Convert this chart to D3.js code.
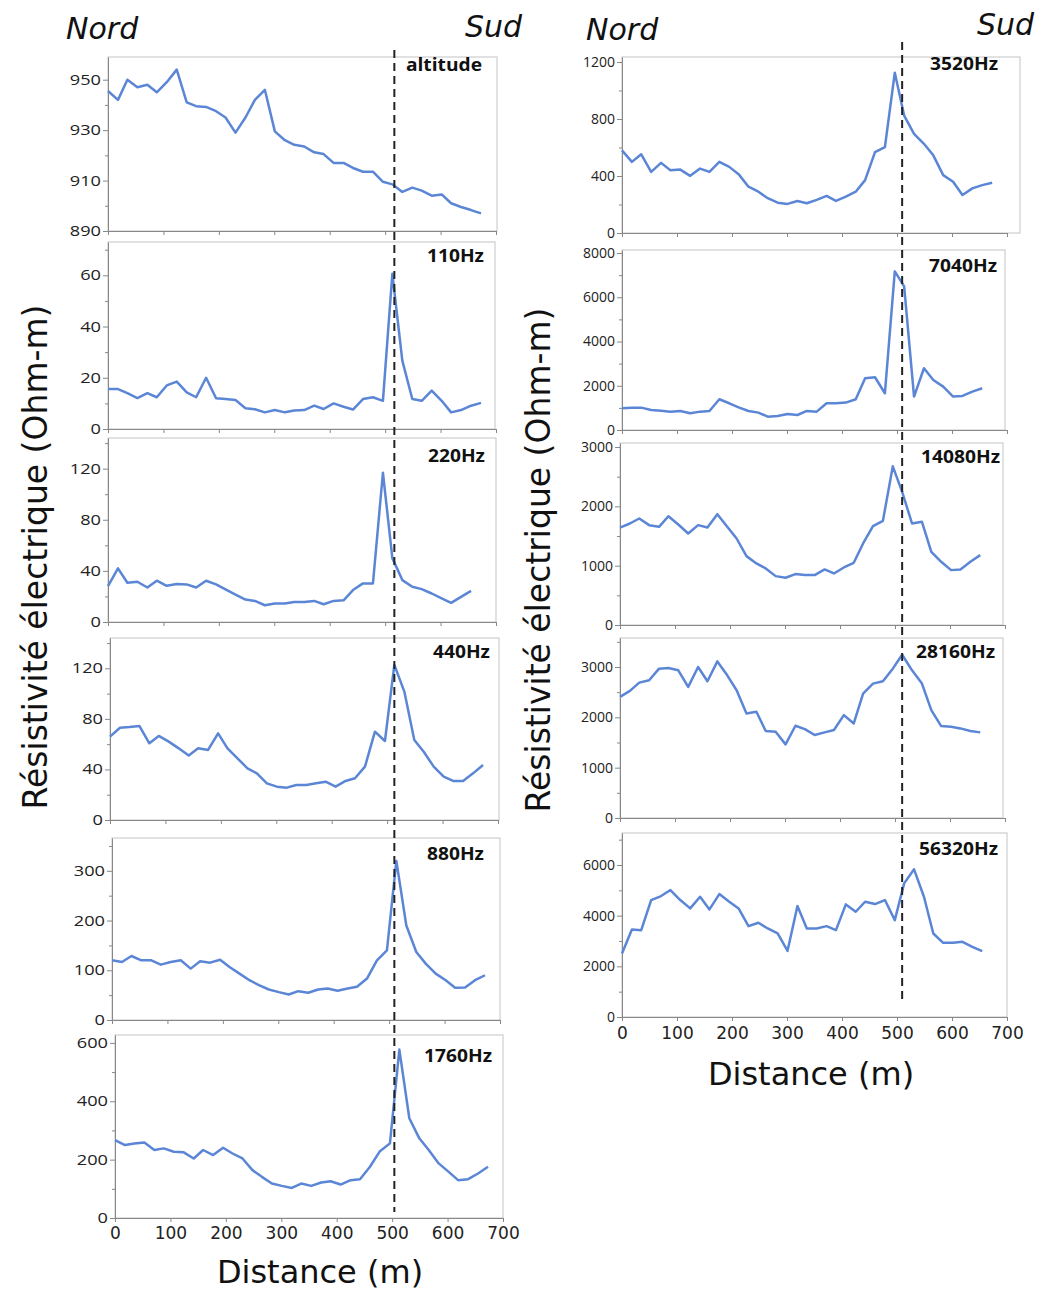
<!DOCTYPE html>
<html>
<head>
<meta charset="utf-8">
<script src="https://cdn.jsdelivr.net/npm/d3@7"></script>
<style>
  body { margin: 0; background: #fff; }
  svg { display: block; }
</style>
</head>
<body>
<div id="container"></div>
<script>
// station positions along the profile (m)
var distance = [0, 18, 35, 53, 71, 88, 106, 124, 142, 159, 177, 195, 212, 230, 248, 265, 283, 301, 319, 336,
  354, 372, 389, 407, 425, 442, 460, 478, 496, 513, 531, 549, 566, 584, 602, 619, 637, 655, 673];
var boundary = 513;
var xTicks = [0, 100, 200, 300, 400, 500, 600, 700];

var altitude = [945.5, 942, 950, 947, 948, 945, 949, 954, 941, 939.5, 939.2, 937.5, 935, 929, 935, 942, 946, 929.5, 926, 924.2,
  923.5, 921.2, 920.5, 917, 917, 915, 913.5, 913.5, 909.5, 908.5, 905.5, 907.2, 906, 904, 904.5, 901, 899.5, 898.3, 897];
var hz110 = [15.6, 15.6, 14, 12.1, 14, 12.4, 17, 18.5, 14.3, 12.4, 20, 12, 11.7, 11.3, 8.1, 7.7, 6.5, 7.4, 6.5, 7.2,
  7.4, 9.1, 7.8, 10, 8.7, 7.6, 11.7, 12.4, 11, 60.6, 26.7, 11.7, 11, 15, 11, 6.5, 7.4, 9.1, 10.2];
var hz220 = [28, 42, 30.7, 31.5, 27, 32.3, 28.3, 29.7, 29.4, 27, 32.3, 29.4, 25.5, 21.5, 17.6, 16.5, 13.1, 14.4, 14.4, 15.7,
  15.7, 16.5, 13.9, 16.5, 17, 25, 30.2, 30.2, 116.8, 50, 32.8, 27.6, 25.7, 22.3, 18.4, 15, 19.7, 24.4];
var hz440 = [66, 73, 73.5, 74.4, 60.7, 66.5, 62, 56.7, 51, 56.7, 55.4, 68.6, 56.7, 48.8, 40.9, 36.9, 29, 26.4, 25.6, 27.7,
  27.7, 29, 30.3, 26.4, 30.9, 33, 42.2, 69.9, 62.5, 122.7, 101.6, 63.3, 54, 42.2, 34.3, 30.9, 30.9, 36.9, 43.5];
var hz880 = [120, 116.7, 128.7, 120, 120, 111.3, 116.7, 120, 103.3, 118, 115.3, 121.3, 106.7, 93.3, 80, 70, 61.3, 56, 51.3, 58,
  54.7, 61.3, 63.3, 58.7, 63.3, 66.7, 83.3, 120, 140, 320, 190, 136.7, 113.3, 93.3, 80, 64.7, 65.3, 80, 90];
var hz1760 = [267, 250, 255, 259, 233, 238.5, 227, 225, 204, 233, 215.6, 240.8, 221, 204, 164, 141, 118, 110, 103, 118,
  110, 121.6, 126, 114.7, 129.6, 133, 175.5, 229, 255.7, 577, 341.7, 273, 233, 187, 158, 129.6, 133, 152.5, 175.5];
var hz3520 = [580, 499, 552, 429, 492, 441, 445, 401, 452, 429, 499, 464, 413, 325, 290, 244, 213, 204, 225, 209,
  232, 260, 225, 255, 290, 371, 568, 603, 1125, 824, 696, 626, 545, 406, 360, 267, 313, 336, 353];
var hz7040 = [981, 1011, 1011, 906, 875, 830, 860, 755, 830, 860, 1389, 1208, 1026, 860, 785, 604, 634, 725, 679, 860,
  830, 1208, 1208, 1238, 1389, 2340, 2385, 1660, 7170, 6490, 1509, 2792, 2264, 1962, 1509, 1540, 1736, 1887];
var hz14080 = [1643, 1711, 1795, 1683, 1655, 1834, 1694, 1542, 1683, 1643, 1868, 1655, 1458, 1161, 1038, 953, 824, 796, 858, 841,
  841, 937, 869, 970, 1049, 1374, 1666, 1755, 2675, 2243, 1711, 1739, 1234, 1066, 925, 937, 1066, 1178];
var hz28160 = [2406, 2525, 2690, 2736, 2967, 2980, 2934, 2604, 3000, 2716, 3111, 2835, 2538, 2077, 2110, 1727, 1714, 1463, 1833, 1767,
  1648, 1701, 1747, 2044, 1879, 2472, 2670, 2716, 2967, 3243, 2934, 2670, 2142, 1826, 1813, 1780, 1727, 1701];
var hz56320 = [2505, 3455, 3429, 4616, 4774, 5011, 4616, 4286, 4747, 4246, 4853, 4550, 4286, 3587, 3719, 3495, 3297, 2611, 4378, 3495,
  3495, 3587, 3429, 4444, 4154, 4550, 4457, 4616, 3824, 5275, 5829, 4747, 3297, 2928, 2928, 2967, 2769, 2598];

var ticksAltitude = [890, 910, 930, 950];
var ticks110 = [0, 20, 40, 60];
var ticks220 = [0, 40, 80, 120];
var ticks880 = [0, 100, 200, 300];
var ticks1760 = [0, 200, 400, 600];
var ticks3520 = [0, 400, 800, 1200];
var ticks7040 = [0, 2000, 4000, 6000, 8000];
var ticks14080 = [0, 1000, 2000, 3000];
var ticks56320 = [0, 2000, 4000, 6000];

// left column panels come from stretched images, so their tick text is wider (sx)
var panels = [
  { label: "altitude", values: altitude, ticks: ticksAltitude, min: 890, max: 959, top: 57, bottom: 231, left: 108, right: 497, lx: 482, ly: 71, span: 388, sx: 1.3 },
  { label: "110Hz", values: hz110, ticks: ticks110, min: 0, max: 73, top: 242, bottom: 429, left: 108, right: 495, lx: 484, ly: 262, span: 388, sx: 1.3 },
  { label: "220Hz", values: hz220, ticks: ticks220, min: 0, max: 144, top: 438, bottom: 622, left: 108, right: 496, lx: 485, ly: 462, span: 388, sx: 1.3 },
  { label: "440Hz", values: hz440, ticks: ticks220, min: 0, max: 144, top: 638, bottom: 820, left: 110, right: 499, lx: 490, ly: 658, span: 388, sx: 1.3 },
  { label: "880Hz", values: hz880, ticks: ticks880, min: 0, max: 366, top: 838, bottom: 1020, left: 112, right: 500, lx: 484, ly: 860, span: 388, sx: 1.3 },
  { label: "1760Hz", values: hz1760, ticks: ticks1760, min: 0, max: 627, top: 1035, bottom: 1218, left: 115, right: 503, lx: 492, ly: 1062, span: 388, sx: 1.3, xlabels: true, xpad: 5 },
  { label: "3520Hz", values: hz3520, ticks: ticks3520, min: 0, max: 1235, top: 57, bottom: 233, left: 622, right: 1020, lx: 998, ly: 70, span: 385, sx: 1 },
  { label: "7040Hz", values: hz7040, ticks: ticks7040, min: 0, max: 8136, top: 250, bottom: 430, left: 622, right: 1005, lx: 997, ly: 272, span: 385, sx: 1 },
  { label: "14080Hz", values: hz14080, ticks: ticks14080, min: 0, max: 3068, top: 443, bottom: 625, left: 620, right: 1003, lx: 1000, ly: 463, span: 385, sx: 1 },
  { label: "28160Hz", values: hz28160, ticks: ticks14080, min: 0, max: 3576, top: 638, bottom: 818, left: 620, right: 1003, lx: 995, ly: 658, span: 385, sx: 1 },
  { label: "56320Hz", values: hz56320, ticks: ticks56320, min: 0, max: 7263, top: 833, bottom: 1017, left: 622, right: 1007, lx: 998, ly: 855, span: 385, sx: 1, xlabels: true, xpad: 6 }
];

var svg = d3.select('#container').append('svg')
  .attr('width', 1037).attr('height', 1290);

var tickFont = "'Open Sans', 'Liberation Sans', sans-serif";
var titleFont = "'DejaVu Sans', sans-serif";

panels.forEach(function(p) {
  var x = d3.scaleLinear().domain([0, 700]).range([p.left, p.left + p.span]);
  var y = d3.scaleLinear().domain([p.min, p.max]).range([p.bottom, p.top]);
  var step = p.ticks[1] - p.ticks[0];
  var minor = d3.range(p.ticks[0] + step / 2, p.max, step);
  var g = svg.append('g');

  g.append('rect')
    .attr('x', p.left).attr('y', p.top)
    .attr('width', p.right - p.left).attr('height', p.bottom - p.top)
    .attr('fill', 'none').attr('stroke', '#c4c4c4').attr('stroke-width', 1);

  var yMinor = g.append('g').attr('transform', 'translate(' + p.left + ',0)')
    .call(d3.axisLeft(y).tickValues(minor).tickSize(3).tickFormat(''));
  yMinor.select('.domain').remove();
  yMinor.selectAll('line').attr('stroke', '#888');

  var yAxis = g.append('g').attr('transform', 'translate(' + p.left + ',0)')
    .call(d3.axisLeft(y).tickValues(p.ticks).tickSize(5).tickPadding(2).tickSizeOuter(0).tickFormat(d3.format('d')));
  yAxis.select('.domain').attr('stroke', '#888');
  yAxis.selectAll('line').attr('stroke', '#888');
  yAxis.selectAll('text')
    .attr('font-family', tickFont).attr('font-size', 14).attr('fill', '#222')
    .attr('x', -7 / p.sx)
    .attr('transform', 'scale(' + p.sx + ',1)');

  var xAxis = g.append('g').attr('transform', 'translate(0,' + p.bottom + ')')
    .call(d3.axisBottom(x).tickValues(xTicks).tickSize(4).tickPadding(p.xpad || 3).tickSizeOuter(0)
      .tickFormat(p.xlabels ? d3.format('d') : ''));
  xAxis.select('.domain').attr('stroke', '#888');
  xAxis.selectAll('line').attr('stroke', '#888');
  xAxis.selectAll('text').attr('font-family', titleFont).attr('font-size', 17).attr('fill', '#222');

  var line = d3.line()
    .x(function(d, i) { return x(distance[i]); })
    .y(function(d) { return y(d); });

  g.append('path').datum(p.values)
    .attr('d', line)
    .attr('fill', 'none')
    .attr('stroke', '#5b86d6')
    .attr('stroke-width', 2.5)
    .attr('stroke-linejoin', 'round');

  g.append('text')
    .attr('transform', 'translate(' + p.lx + ',' + p.ly + ') scale(1.13,1)')
    .attr('text-anchor', 'end')
    .attr('font-family', tickFont).attr('font-weight', 'bold').attr('font-size', 17)
    .attr('fill', '#111')
    .text(p.label);
});

// boundary markers
var xLeft = d3.scaleLinear().domain([0, 700]).range([110, 498]);
var xRight = d3.scaleLinear().domain([0, 700]).range([620, 1005]);
[[xLeft, 50, 1212], [xRight, 42, 1003]].forEach(function(b) {
  svg.append('line')
    .attr('x1', b[0](boundary)).attr('x2', b[0](boundary))
    .attr('y1', b[1]).attr('y2', b[2])
    .attr('stroke', '#222').attr('stroke-width', 2)
    .attr('stroke-dasharray', '8,5');
});

// titles
var titles = [
  { t: "Nord", x: 66, y: 39, anchor: 'start', italic: true },
  { t: "Sud", x: 522, y: 37, anchor: 'end', italic: true },
  { t: "Nord", x: 586, y: 40, anchor: 'start', italic: true },
  { t: "Sud", x: 1034, y: 35, anchor: 'end', italic: true },
  { t: "Distance (m)", x: 320, y: 1283, anchor: 'middle' },
  { t: "Distance (m)", x: 811, y: 1085, anchor: 'middle' }
];
titles.forEach(function(d) {
  svg.append('text')
    .attr('x', d.x).attr('y', d.y)
    .attr('text-anchor', d.anchor)
    .attr('font-family', titleFont)
    .attr('font-style', d.italic ? 'italic' : 'normal')
    .attr('font-size', d.italic ? 30 : 32)
    .attr('fill', '#111')
    .text(d.t);
});

[[47, 557], [550, 560]].forEach(function(c) {
  svg.append('text')
    .attr('transform', 'translate(' + c[0] + ',' + c[1] + ') rotate(-90)')
    .attr('text-anchor', 'middle')
    .attr('font-family', titleFont)
    .attr('font-size', 33)
    .attr('fill', '#111')
    .text("Résistivité électrique (Ohm-m)");
});
</script>
</body>
</html>
